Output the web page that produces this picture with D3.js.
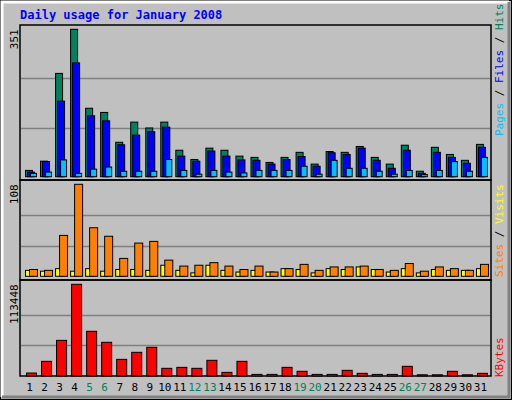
<!DOCTYPE html>
<html><head><meta charset="utf-8">
<script src="https://cdn.jsdelivr.net/npm/d3@7/dist/d3.min.js"></script>
<style>body{margin:0;background:#fff}svg{display:block}text{font-family:"DejaVu Sans Mono",monospace}</style>
</head><body><svg id="c" width="512" height="400"></svg>
<script>
const days = d3.range(1, 32);
const weekend = [5,6,12,13,19,20,26,27];
const hits  = [15,37,246,351,163,153,82,130,116,130,63,41,68,63,49,46,34,46,58,30,60,58,72,46,30,75,13,70,53,39,77];
const files = [11,36,180,271,145,133,76,99,107,118,49,37,61,49,40,39,30,41,48,25,57,53,68,39,20,63,8,58,46,32,70];
const pages = [8,11,40,8,18,23,13,13,13,41,15,6,15,11,9,15,15,15,25,6,39,20,20,13,6,15,5,15,36,13,46];
const visits= [7,6,9,6,9,6,8,8,7,13,7,4,13,7,5,7,5,9,8,4,9,8,11,8,5,9,4,8,7,7,9];
const sites = [8,7,48,108,57,47,21,39,41,19,12,13,16,12,8,12,5,9,14,7,11,11,12,8,7,15,6,11,9,7,14];
const kbytes= [3700,18150,44100,113448,55300,41700,20600,29300,35500,9500,10700,9500,19400,4500,18150,2000,2000,10700,5800,2000,2000,7000,3300,2000,2000,12000,1500,1500,5800,1500,3300];

const svg = d3.select("#c");
svg.append("rect").attr("x",0).attr("y",0).attr("width",512).attr("height",400).attr("fill","#c0c0c0");
svg.append("rect").attr("x",0.5).attr("y",0.5).attr("width",511).attr("height",399).attr("fill","none").attr("stroke","#000");
// bevel
svg.append("path").attr("d","M2,397V2H509").attr("stroke","#fff").attr("stroke-width",3).attr("fill","none");
svg.append("path").attr("d","M509,2V397H2").attr("stroke","#808080").attr("stroke-width",3).attr("fill","none");

svg.append("text").attr("x",20).attr("y",19).attr("fill","#0000ff").attr("font-weight","bold").attr("font-size",12).text("Daily usage for January 2008");

const x = d3.scaleBand().domain(days).range([20,486]).paddingInner(0);
const L=20, R=491;
function panel(y0,y1,base,top,max){
  svg.append("rect").attr("x",L).attr("y",y0).attr("width",R-L).attr("height",y1-y0).attr("fill","none").attr("stroke","#000").attr("stroke-width",1.5);
  const y = d3.scaleLinear().domain([0,max]).range([base,top]);
  [max/3,2*max/3].forEach(v=>svg.append("line").attr("x1",L+1).attr("x2",R-1).attr("y1",Math.round(y(v))+0.5).attr("y2",Math.round(y(v))+0.5).attr("stroke","#808080").attr("stroke-width",1.5));
  svg.append("text").attr("transform",`translate(18,${top}) rotate(-90)`).attr("text-anchor","end").attr("font-size",11).attr("fill","#000").text(max);
  return y;
}
function bars(data,y,off,w,fill){
  svg.append("g").selectAll("rect").data(data).join("rect")
    .attr("x",(d,i)=>x(days[i])+off+0.5).attr("y",d=>y(d)).attr("width",w).attr("height",d=>Math.max(1,y(0)-y(d)))
    .attr("fill",fill).attr("stroke","#000").attr("stroke-width",1);
}
function sideLabel(parts,yBottom){
  const t = svg.append("text").attr("transform",`translate(503,${yBottom}) rotate(-90)`).attr("font-size",11);
  parts.forEach(p=>t.append("tspan").attr("fill",p[1]).text(p[0]));
}
const y1 = panel(25,180,176.7,29.3,351);
bars(hits,y1,5,7,"#00805c");
bars(files,y1,7,7,"#0000ff");
bars(pages,y1,10,6,"#00c0ff");
sideLabel([["Pages","#00c0ff"],[" / ","#000"],["Files","#0000ff"],[" / ","#000"],["Hits","#00805c"]],136);

const y2 = panel(180,280,276.3,184.3,108);
bars(visits,y2,5,8,"#ffff00");
bars(sites,y2,9,8,"#ff8000");
sideLabel([["Sites","#ff8000"],[" / ","#000"],["Visits","#ffff00"]],277);

const y3 = panel(280,376,376,284.3,113448);
bars(kbytes,y3,6,10,"#ff0000");
sideLabel([["KBytes","#ff0000"]],377);

svg.append("g").selectAll("text").data(days).join("text")
  .attr("x",d=>x(d)+x.bandwidth()/2+2).attr("y",391).attr("text-anchor","middle").attr("font-size",11)
  .attr("fill",d=>weekend.includes(d)?"#00805c":"#000").text(d=>d);
</script></body></html>
